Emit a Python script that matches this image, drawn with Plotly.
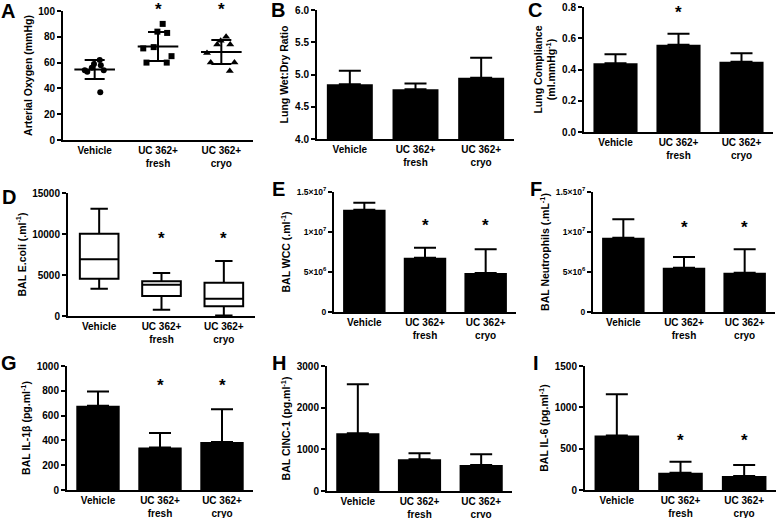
import plotly.graph_objects as go

W, H = 777, 518

CATS = ["Vehicle", "UC 362+<br>fresh", "UC 362+<br>cryo"]

# Panel A: individual arterial oxygen values (mmHg)
A_VEHICLE = [56, 54, 54, 59, 62, 53, 58, 37]
A_FRESH = [90, 83, 84, 72, 71, 65, 60, 60]
A_CRYO = [80, 74, 77, 74, 67.5, 60, 60, 53.5]
A_MEAN = [54.6, 72.5, 68.3]
A_SD = [7.4, 11.3, 9.3]

# Bar panels: means and SD
B_MEAN = [4.85, 4.77, 4.95]
B_SD = [0.21, 0.09, 0.31]
C_MEAN = [0.44, 0.558, 0.45]
C_SD = [0.058, 0.071, 0.054]
E_MEAN = [12.79e6, 6.79e6, 4.875e6]
E_SD = [0.88e6, 1.25e6, 2.955e6]
F_MEAN = [9.29e6, 5.54e6, 4.92e6]
F_SD = [2.29e6, 1.335e6, 2.91e6]
G_MEAN = [679, 342, 388]
G_SD = [115, 118, 264]
H_MEAN = [1384, 760, 624]
H_SD = [1176, 144, 256]
I_MEAN = [658, 209, 168]
I_SD = [501, 132, 133]

# Panel D: box statistics (min, q1, median, q3, max)
D_MIN = [3330, 770, 50]
D_Q1 = [4550, 2440, 1180]
D_MED = [6910, 3820, 2110]
D_Q3 = [10040, 4230, 4060]
D_MAX = [13090, 5240, 6700]

# significance star heights (data units) per panel
STARS = {
    1: [(1, 103), (2, 103)],
    3: [(1, 0.78)],
    4: [(1, 9670), (2, 9670)],
    5: [(1, 1.109e7), (2, 1.109e7)],
    6: [(1, 1.0875e7), (2, 1.0875e7)],
    7: [(1, 855), (2, 855)],
    9: [(1, 629), (2, 629)],
}

FONT = "Liberation Sans, Arial, sans-serif"

# panel geometry in pixels: x0, x1, ytop, ybottom
PANELS = {
    1: (63, 253, 11, 140),
    2: (317, 514, 10, 139),
    3: (584, 773, 7, 132),
    4: (68, 255, 193, 316),
    5: (334, 516, 192, 312),
    6: (593, 775, 192, 312),
    7: (67, 253, 366, 490),
    8: (327, 512, 366, 491),
    9: (585, 776, 366, 490),
}

SUPX = ["0", "5×10<sup>6</sup>", "1×10<sup>7</sup>", "1.5×10<sup>7</sup>"]
YAX = {
    1: dict(range=[0, 100], dtick=20, title="Arterial Oxygen (mmHg)"),
    2: dict(range=[4, 6], dtick=0.5, tickformat=".1f", title="Lung Wet:Dry Ratio"),
    3: dict(range=[0, 0.8], dtick=0.2, tickformat=".1f",
            title="Lung Compliance<br>(ml.mmHg<sup>-1</sup>)"),
    4: dict(range=[0, 15000], dtick=5000, tickformat="d", title="BAL E.coli (.ml<sup>-1</sup>)"),
    5: dict(range=[0, 1.5e7], tickvals=[0, 5e6, 1e7, 1.5e7], ticktext=SUPX, ticksize=8.5,
            title="BAL WCC (.ml<sup>-1</sup>)"),
    6: dict(range=[0, 1.5e7], tickvals=[0, 5e6, 1e7, 1.5e7], ticktext=SUPX, ticksize=8.5,
            title="BAL Neutrophils (.mL<sup>-1</sup>)"),
    7: dict(range=[0, 1000], dtick=200, title="BAL IL-1β (pg.ml<sup>-1</sup>)"),
    8: dict(range=[0, 3000], dtick=1000, tickformat="d", title="BAL CINC-1 (pg.ml<sup>-1</sup>)"),
    9: dict(range=[0, 1500], dtick=500, tickformat="d", title="BAL IL-6 (pg.ml<sup>-1</sup>)"),
}

LETTERS = {
    "A": (8, 11), "B": (278, 10), "C": (535, 9.5),
    "D": (8.5, 197.5), "E": (278, 188.5), "F": (535.5, 188.5),
    "G": (8.5, 362.5), "H": (278.5, 362.5), "I": (536, 362.5),
}

fig = go.Figure()


def ax(i):
    return ("x" if i == 1 else f"x{i}"), ("y" if i == 1 else f"y{i}")


# Panel A scatter
xa, ya = ax(1)
for vals, sym, cat, sz in [(A_VEHICLE, "circle", CATS[0], 6),
                           (A_FRESH, "square", CATS[1], 6),
                           (A_CRYO, "triangle-up", CATS[2], 7)]:
    fig.add_trace(go.Box(
        x=[cat] * len(vals), y=vals, boxpoints="all", jitter=0.95, pointpos=0,
        width=0.6, fillcolor="rgba(0,0,0,0)", line=dict(width=0, color="rgba(0,0,0,0)"),
        marker=dict(symbol=sym, size=sz, color="black"),
        xaxis=xa, yaxis=ya, showlegend=False, hoverinfo="y"))
fig.add_trace(go.Scatter(
    x=CATS, y=A_MEAN, mode="markers",
    marker=dict(symbol="line-ew", size=29, color="black", line=dict(width=2, color="black")),
    error_y=dict(type="data", array=A_SD, thickness=2, width=10, color="black"),
    xaxis=xa, yaxis=ya, showlegend=False))

# Bar panels
for i, (m, s) in {2: (B_MEAN, B_SD), 3: (C_MEAN, C_SD), 5: (E_MEAN, E_SD),
                  6: (F_MEAN, F_SD), 7: (G_MEAN, G_SD), 8: (H_MEAN, H_SD),
                  9: (I_MEAN, I_SD)}.items():
    xa, ya = ax(i)
    fig.add_trace(go.Bar(
        x=CATS, y=m, width=0.7, marker=dict(color="black", line=dict(width=0)),
        error_y=dict(type="data", array=s, arrayminus=[0] * len(s), thickness=2,
                     width=11, color="black"),
        xaxis=xa, yaxis=ya, showlegend=False))

# Panel D box plot
xa, ya = ax(4)
fig.add_trace(go.Box(
    x=CATS, q1=D_Q1, median=D_MED, q3=D_Q3, lowerfence=D_MIN, upperfence=D_MAX,
    width=0.62, whiskerwidth=0.45, fillcolor="white",
    line=dict(color="black", width=2), xaxis=xa, yaxis=ya, showlegend=False))

layout = dict(
    width=W, height=H, margin=dict(l=0, r=0, t=0, b=0, pad=0), autosize=False,
    paper_bgcolor="white", plot_bgcolor="white",
    font=dict(family=FONT, color="black"),
    boxmode="overlay", showlegend=False, annotations=[],
)

for i, (x0, x1, yt, yb) in PANELS.items():
    xk = "xaxis" if i == 1 else f"xaxis{i}"
    yk = "yaxis" if i == 1 else f"yaxis{i}"
    xa, ya = ax(i)
    layout[xk] = dict(
        domain=[x0 / W, x1 / W], anchor=ya, type="category", range=[-0.5, 2.5],
        showline=True, linecolor="black", linewidth=2, ticks="", showgrid=False,
        zeroline=False, automargin=False,
        tickfont=dict(family=FONT, size=10, weight=700, color="black"),
        fixedrange=True)
    yd = YAX[i]
    y = dict(
        domain=[1 - yb / H, 1 - yt / H], anchor=xa, range=yd["range"],
        showline=True, linecolor="black", linewidth=2, ticks="outside", ticklen=4,
        tickwidth=1.5, tickcolor="black", showgrid=False, zeroline=False,
        automargin=False,
        tickfont=dict(family=FONT, size=yd.get("ticksize", 10), weight=700, color="black"),
        title=dict(text=yd["title"], font=dict(family=FONT, size=10.5, weight=700, color="black"),
                   standoff=4),
        fixedrange=True)
    for k in ("dtick", "tickformat", "tickvals", "ticktext"):
        if k in yd:
            y[k] = yd[k]
    layout[yk] = y

for i, lst in STARS.items():
    xa, ya = ax(i)
    r0, r1 = YAX[i]["range"]
    for ci, yv in lst:
        layout["annotations"].append(dict(
            x=CATS[ci], y=(yv - r0) / (r1 - r0), xref=xa, yref=ya + " domain",
            text="*", showarrow=False,
            font=dict(family=FONT, size=17, weight=700, color="black"),
            yanchor="middle", yshift=-2))

for letter, (lx, ly) in LETTERS.items():
    layout["annotations"].append(dict(
        x=lx / W, y=1 - ly / H, xref="paper", yref="paper", text=letter,
        showarrow=False, xanchor="center", yanchor="middle",
        font=dict(family=FONT, size=20, weight=700, color="black")))

fig.update_layout(**layout)
fig.write_html("out.html", config={"displayModeBar": False},
               post_script="document.body.style.margin='0';")
